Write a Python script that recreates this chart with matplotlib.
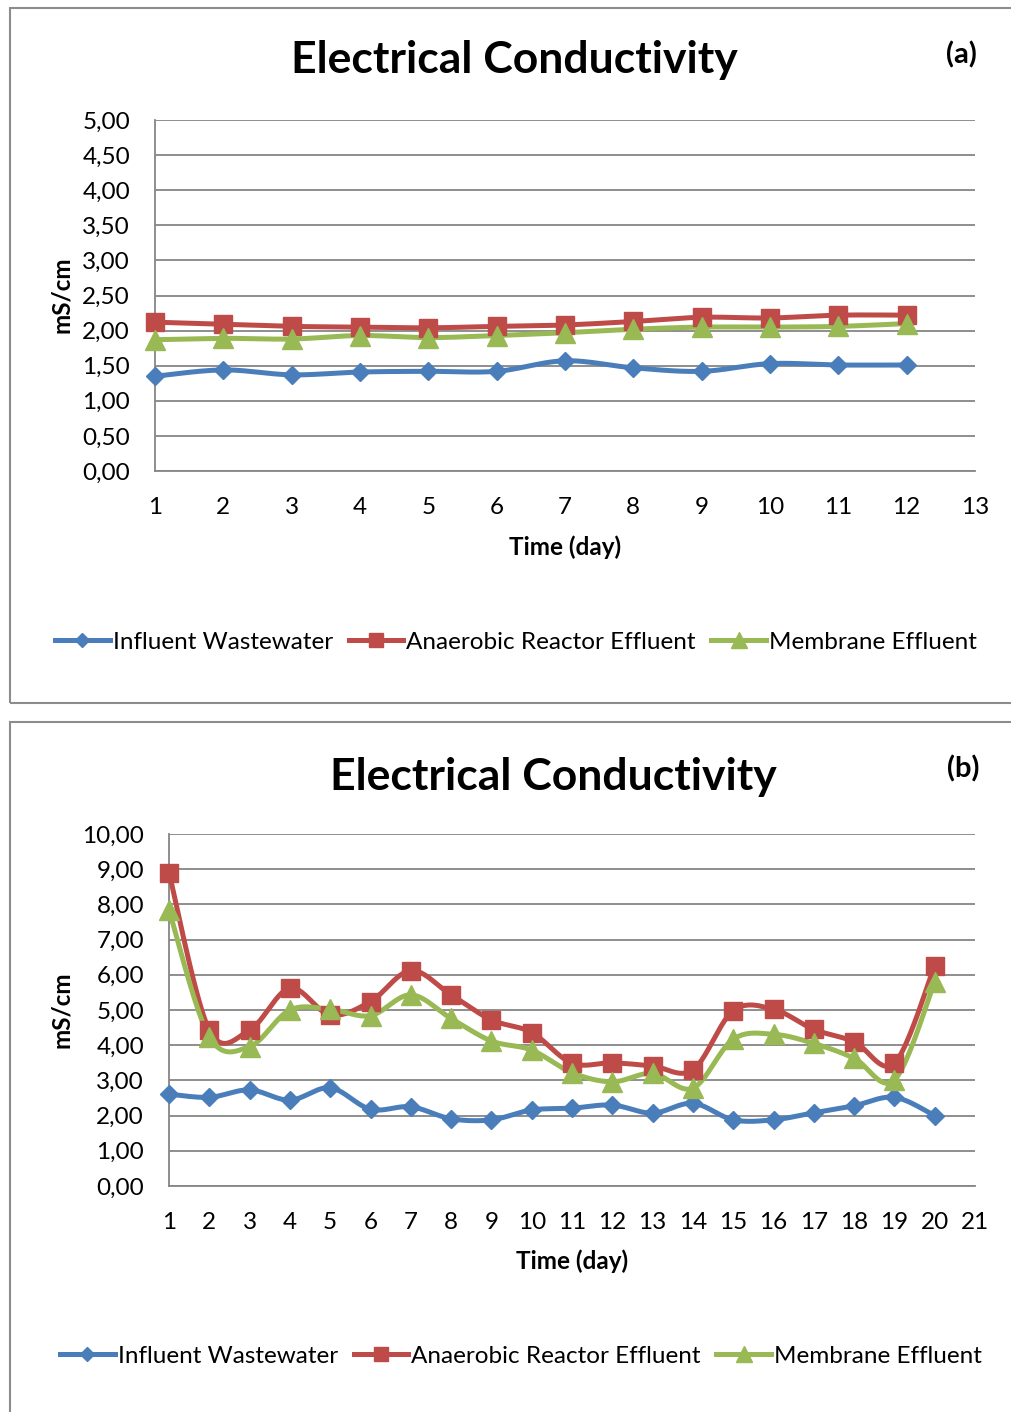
import matplotlib
matplotlib.use("Agg")
import matplotlib.pyplot as plt
import numpy as np
from matplotlib.lines import Line2D
from matplotlib.patches import Rectangle

plt.rcParams["font.family"] = ["Lato", "DejaVu Sans"]

# Panel (a): 12 days
days_a = list(range(1, 13))
influent_a = [1.35, 1.44, 1.37, 1.41, 1.42, 1.42, 1.57, 1.47, 1.42, 1.53, 1.51, 1.51]
reactor_a = [2.12, 2.09, 2.06, 2.05, 2.04, 2.06, 2.08, 2.13, 2.19, 2.18, 2.22, 2.22]
membrane_a = [1.87, 1.89, 1.88, 1.93, 1.90, 1.93, 1.97, 2.02, 2.05, 2.05, 2.06, 2.10]

# Panel (b): 20 days
days_b = list(range(1, 21))
influent_b = [2.61, 2.52, 2.73, 2.44, 2.79, 2.18, 2.25, 1.91, 1.88, 2.16,
              2.21, 2.30, 2.07, 2.35, 1.88, 1.88, 2.08, 2.28, 2.52, 2.00]
reactor_b = [8.90, 4.43, 4.43, 5.62, 4.86, 5.24, 6.12, 5.43, 4.72, 4.36,
             3.49, 3.50, 3.41, 3.30, 4.98, 5.02, 4.45, 4.10, 3.49, 6.26]
membrane_b = [7.84, 4.24, 3.96, 5.00, 5.02, 4.84, 5.43, 4.76, 4.12, 3.86,
              3.22, 2.96, 3.20, 2.78, 4.17, 4.31, 4.05, 3.63, 3.01, 5.80]

labels = ["Influent Wastewater", "Anaerobic Reactor Effluent", "Membrane Effluent"]
colors = ["#4A7EBB", "#BE4B48", "#98B954"]
markers = ["D", "s", "^"]
msizes = [9.5, 13, 14]

W, H = 1012, 1412
GRID = "#868686"
FS = 17.5


def smooth(x, y, n=24):
    """Bezier smoothing through every point, like spreadsheet 'smoothed line'."""
    pts = np.column_stack([x, y]).astype(float)
    ext = np.vstack([pts[0], pts, pts[-1]])
    t = np.linspace(0, 1, n)[:, None]
    out = []
    for i in range(len(pts) - 1):
        p0, p1, p2, p3 = ext[i], ext[i + 1], ext[i + 2], ext[i + 3]
        c1 = p1 + (p2 - p0) / 6
        c2 = p2 - (p3 - p1) / 6
        seg = (1 - t) ** 3 * p1 + 3 * (1 - t) ** 2 * t * c1 + 3 * (1 - t) * t ** 2 * c2 + t ** 3 * p2
        out.append(seg if i == 0 else seg[1:])
    curve = np.vstack(out)
    return curve[:, 0], curve[:, 1]


def px_rect(x0, y0, x1, y1):
    return [x0 / W, 1 - y1 / H, (x1 - x0) / W, (y1 - y0) / H]


def fig_xy(x, y):
    return x / W, 1 - y / H


def draw_panel(fig, ax_box, days, series, ymax, ystep, xmax, title, title_xy, tag, tag_xy,
               ylab_xy, xlab_xy, legend_xy):
    ax = fig.add_axes(px_rect(*ax_box))
    for vals, c, m, ms in zip(series, colors, markers, msizes):
        sx, sy = smooth(days, vals)
        ax.plot(sx, sy, color=c, lw=3.6, solid_capstyle="round", clip_on=False, zorder=3)
        ax.plot(days, vals, ls="none", marker=m, ms=ms, color=c, clip_on=False, zorder=4)

    ax.set_xlim(1, xmax)
    ax.set_ylim(0, ymax)
    ax.set_xticks(range(1, xmax + 1))
    yt = np.arange(0, ymax + ystep / 2, ystep)
    ax.set_yticks(yt)
    ax.set_yticklabels([f"{v:.2f}".replace(".", ",") for v in yt])
    ax.grid(axis="y", color=GRID, lw=1.3)
    ax.set_axisbelow(True)
    for side in ("top", "right"):
        ax.spines[side].set_visible(False)
    for side in ("left", "bottom"):
        ax.spines[side].set_color(GRID)
        ax.spines[side].set_linewidth(1.3)
    ax.tick_params(axis="both", length=0, labelsize=FS, colors="black")
    ax.tick_params(axis="y", pad=18)
    ax.tick_params(axis="x", pad=19)

    fig.text(*fig_xy(*xlab_xy), "Time (day)", fontsize=FS, fontweight="bold",
             ha="center", va="center")
    fig.text(*fig_xy(*title_xy), title, fontsize=32, fontweight="bold",
             ha="center", va="center")
    fig.text(*fig_xy(*tag_xy), tag, fontsize=21, fontweight="bold",
             ha="center", va="center")
    fig.text(*fig_xy(*ylab_xy), "mS/cm", fontsize=FS, fontweight="bold",
             rotation=90, ha="center", va="center")

    handles = [Line2D([], [], color=c, lw=3.6, marker=m, ms=ms * 0.8)
               for c, m, ms in zip(colors, markers, msizes)]
    fig.legend(handles, labels, loc="center", bbox_to_anchor=fig_xy(*legend_xy),
               ncol=3, frameon=False, fontsize=FS, handlelength=2.25, handletextpad=0.12,
               columnspacing=0.65)
    return ax


fig = plt.figure(figsize=(W / 100, H / 100), dpi=100)

# Framed boxes around each panel
fig.add_artist(Rectangle((10 / W, 1 - 703 / H), 1.05, 695 / H, transform=fig.transFigure,
                         fill=False, edgecolor="#8C8C8C", lw=1.5))
fig.add_artist(Rectangle((10 / W, -0.05), 1.05, 1 - 722 / H + 0.05, transform=fig.transFigure,
                         fill=False, edgecolor="#8C8C8C", lw=1.5))

draw_panel(fig, (155, 120, 975, 471), days_a, [influent_a, reactor_a, membrane_a],
           5, 0.5, 13, "Electrical Conductivity", (514, 60), "(a)", (961, 55),
           (62, 295), (565, 547), (516, 642))
draw_panel(fig, (169, 834, 975, 1186), days_b, [influent_b, reactor_b, membrane_b],
           10, 1.0, 21, "Electrical Conductivity", (553, 777), "(b)", (963, 769),
           (62, 1010), (572, 1261), (521, 1356))

fig.savefig("out.png", dpi=100)
